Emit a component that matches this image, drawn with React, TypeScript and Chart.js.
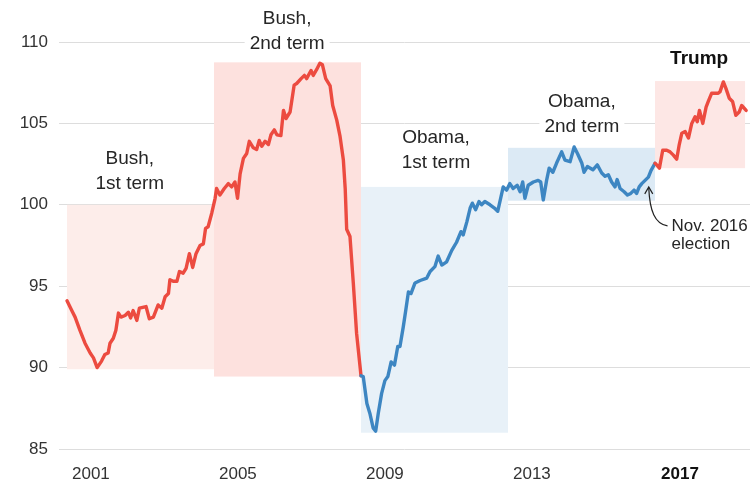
import React, { useEffect, useRef } from "react";
import { Chart, registerables } from "chart.js";

Chart.register(...registerables);

// ---- Data (decimal years, index values) ----
const YEARS = [
  2001.0, 2001.13, 2001.22, 2001.35, 2001.49, 2001.63, 2001.72, 2001.82, 2001.94, 2002.03,
  2002.12, 2002.17, 2002.26, 2002.33, 2002.4, 2002.47, 2002.58, 2002.67, 2002.73, 2002.8,
  2002.9, 2002.97, 2003.06, 2003.15, 2003.24, 2003.35, 2003.48, 2003.58, 2003.67, 2003.76,
  2003.8, 2003.89, 2003.99, 2004.06, 2004.16, 2004.24, 2004.33, 2004.42, 2004.51, 2004.62,
  2004.71, 2004.77, 2004.84, 2004.94, 2005.03, 2005.07, 2005.16, 2005.28, 2005.39, 2005.48,
  2005.57, 2005.64, 2005.71, 2005.8, 2005.89, 2005.96, 2006.07, 2006.16, 2006.23, 2006.3,
  2006.39, 2006.48, 2006.55, 2006.64, 2006.71, 2006.82, 2006.89, 2006.96, 2007.07, 2007.18,
  2007.25, 2007.37, 2007.46, 2007.52, 2007.64, 2007.7, 2007.79, 2007.88, 2007.95, 2008.04,
  2008.16, 2008.23, 2008.34, 2008.43, 2008.52, 2008.57, 2008.61, 2008.7, 2008.79, 2008.88,
  2009.0,
  2009.06, 2009.16, 2009.24, 2009.33, 2009.4, 2009.47, 2009.56, 2009.65, 2009.73, 2009.82,
  2009.91, 2010.0, 2010.06, 2010.15, 2010.22, 2010.29, 2010.36, 2010.47, 2010.61, 2010.79,
  2010.88, 2011.01, 2011.1, 2011.2, 2011.33, 2011.47, 2011.6, 2011.72, 2011.78, 2011.88,
  2011.97, 2012.03, 2012.12, 2012.21, 2012.28, 2012.37, 2012.51, 2012.63, 2012.72, 2012.81,
  2012.87, 2012.96, 2013.05, 2013.14, 2013.25, 2013.33, 2013.4, 2013.46, 2013.55, 2013.69,
  2013.82, 2013.89, 2013.96, 2014.05, 2014.12, 2014.22, 2014.32, 2014.46, 2014.55, 2014.69,
  2014.8, 2014.89, 2015.01, 2015.07, 2015.16, 2015.31, 2015.43, 2015.55, 2015.64, 2015.73,
  2015.82, 2015.91, 2015.97, 2016.05, 2016.16, 2016.25, 2016.34, 2016.43, 2016.5, 2016.57,
  2016.64, 2016.73, 2016.82, 2016.89, 2017.0,
  2017.05, 2017.12, 2017.21, 2017.32, 2017.41, 2017.5, 2017.59, 2017.66, 2017.73, 2017.82,
  2017.91, 2018.0, 2018.09, 2018.15, 2018.21, 2018.3, 2018.39, 2018.45, 2018.54, 2018.63,
  2018.72, 2018.77, 2018.86, 2018.93, 2019.02, 2019.11, 2019.2, 2019.29, 2019.36, 2019.48,
];

const VALUES = [
  94.1, 93.5, 93.1, 92.3, 91.5, 90.9, 90.6, 90.0, 90.4, 90.8,
  90.9, 91.5, 91.8, 92.3, 93.35, 93.1, 93.2, 93.4, 93.05, 93.5,
  92.9, 93.65, 93.7, 93.75, 93.0, 93.1, 93.85, 93.65, 94.35, 94.55,
  95.4, 95.3, 95.3, 95.9, 95.8, 96.1, 97.0, 96.15, 97.0, 97.5,
  97.6, 98.55, 98.65, 99.5, 100.4, 101.0, 100.6, 101.0, 101.3, 101.1,
  101.4, 100.4, 101.9, 102.85, 103.15, 103.9, 103.5, 103.4, 103.95, 103.6,
  103.9, 103.7, 104.3, 104.6, 104.3, 104.25, 105.8, 105.3, 105.7, 107.35,
  107.45, 107.75, 107.95, 107.75, 108.25, 107.95, 108.3, 108.7, 108.6, 107.75,
  107.3, 106.1, 105.2, 104.2, 102.75, 101.0, 98.5, 98.05, 95.2, 92.1,
  89.5,
  89.45, 87.8, 87.2, 86.3, 86.1, 87.2, 88.4, 89.2, 89.45, 90.35,
  90.15, 91.3, 91.3, 92.5, 93.55, 94.65, 94.55, 95.2, 95.35, 95.5,
  95.9, 96.2, 96.85, 96.3, 96.5, 97.2, 97.7, 98.35, 98.15, 98.95,
  99.8, 100.1, 99.7, 100.2, 100.0, 100.2, 100.0, 99.8, 99.6, 100.5,
  101.1, 100.9, 101.3, 101.0, 101.2, 100.8, 101.4, 100.4, 101.2, 101.4,
  101.5, 101.4, 100.3, 101.5, 102.25, 102.0, 102.55, 103.25, 102.75, 102.65,
  103.55, 103.15, 102.55, 102.0, 102.35, 102.15, 102.45, 101.95, 101.75, 101.85,
  101.4, 101.1, 101.55, 101.0, 100.8, 100.6, 100.7, 100.9, 100.7, 101.1,
  101.3, 101.5, 101.7, 102.1, 102.55,
  102.45, 102.25, 103.35, 103.35, 103.25, 103.05, 102.8, 103.7, 104.4, 104.5,
  104.1, 105.0, 105.4, 105.1, 105.8, 105.0, 106.0, 106.35, 106.85, 106.85,
  106.85, 106.95, 107.55, 107.15, 106.55, 106.35, 105.5, 105.7, 106.1, 105.8,
];

// Presidential terms (shaded range boxes: term span x min/max of index)
const TERM_START = [2001, 2005, 2009, 2013, 2017];
const TERM_END = [2005, 2009, 2013, 2017, 2019.45];
const TERM_LOW = [89.9, 89.45, 86.0, 100.25, 102.25];
const TERM_HIGH = [100.0, 108.75, 101.1, 103.5, 107.6];
const TERM_FILL = ["#fdedea", "#fde1de", "#e8f1f8", "#dceaf5", "#fde7e5"];
const BLUE_FROM = 2009;
const BLUE_TO = 2017;

// Term labels
const LABEL_LINES = [
  ["Bush,", "1st term"],
  ["Bush,", "2nd term"],
  ["Obama,", "1st term"],
  ["Obama,", "2nd term"],
  ["Trump"],
];
const LABEL_X = [2002.71, 2006.99, 2011.04, 2015.01, 2018.2];
const LABEL_Y = [102.87, 111.47, 104.16, 106.38, 109.02];
const LABEL_BOLD = [false, false, false, false, true];

// Election note
const NOTE_LINES = ["Nov. 2016", "election"];
const NOTE_X = 2017.45;
const NOTE_Y = 98.7;
const ARROW_TIP = { x: 2016.83, y: 101.1 };

// Axis ticks
const Y_TICKS = [85, 90, 95, 100, 105, 110];
const X_TICK_LABELS = ["2001", "2005", "2009", "2013", "2017"];
const X_TICK_POS = [2001.65, 2005.65, 2009.65, 2013.65, 2017.68];

const RED = "#ec4b40";
const BLUE = "#3d86c2";
const FONT = "'Liberation Sans', Arial, sans-serif";

const overlays = {
  id: "overlays",
  beforeDatasetsDraw(chart: any) {
    const { ctx, scales } = chart;
    const x = scales.x;
    const y = scales.y;
    ctx.save();
    TERM_START.forEach((s, i) => {
      const x0 = x.getPixelForValue(s);
      const x1 = x.getPixelForValue(TERM_END[i]);
      const y0 = y.getPixelForValue(TERM_HIGH[i]);
      const y1 = y.getPixelForValue(TERM_LOW[i]);
      ctx.fillStyle = TERM_FILL[i];
      ctx.fillRect(x0, y0, x1 - x0, y1 - y0);
    });
    ctx.restore();
  },
  afterDatasetsDraw(chart: any) {
    const { ctx, scales } = chart;
    const x = scales.x;
    const y = scales.y;
    ctx.save();
    ctx.textAlign = "center";
    ctx.textBaseline = "middle";
    LABEL_LINES.forEach((lines, i) => {
      const cx = x.getPixelForValue(LABEL_X[i]);
      const cy = y.getPixelForValue(LABEL_Y[i]);
      ctx.font = (LABEL_BOLD[i] ? "bold 19px " : "19px ") + FONT;
      lines.forEach((t, k) => {
        const ly = cy + k * 25;
        const w = ctx.measureText(t).width;
        if (!LABEL_BOLD[i]) {
          ctx.fillStyle = "#ffffff";
          ctx.fillRect(cx - w / 2 - 5, ly - 9, w + 10, 18);
        }
        ctx.fillStyle = LABEL_BOLD[i] ? "#111111" : "#262626";
        ctx.fillText(t, cx, ly + 1);
      });
    });

    // election note
    ctx.font = "17px " + FONT;
    ctx.textAlign = "left";
    ctx.fillStyle = "#262626";
    const nx = x.getPixelForValue(NOTE_X);
    const ny = y.getPixelForValue(NOTE_Y);
    NOTE_LINES.forEach((t, k) => ctx.fillText(t, nx, ny + k * 18));

    // arrow
    const tx = x.getPixelForValue(ARROW_TIP.x);
    const ty = y.getPixelForValue(ARROW_TIP.y);
    ctx.strokeStyle = "#222";
    ctx.lineWidth = 1.2;
    ctx.beginPath();
    ctx.moveTo(tx, ty + 1);
    ctx.bezierCurveTo(tx + 1, ty + 24, tx + 6, ny - 2, nx - 4, ny);
    ctx.stroke();
    ctx.beginPath();
    ctx.moveTo(tx - 4, ty + 7);
    ctx.lineTo(tx, ty);
    ctx.lineTo(tx + 4, ty + 7);
    ctx.stroke();
    ctx.restore();
  },
};

export default function App() {
  const ref = useRef<HTMLCanvasElement | null>(null);

  useEffect(() => {
    document.body.style.margin = "0";
    const canvas = ref.current;
    if (!canvas) return;
    const data = YEARS.map((yr, i) => ({ x: yr, y: VALUES[i] }));
    const chart = new Chart(canvas, {
      type: "line",
      data: {
        datasets: [
          {
            data,
            borderWidth: 3.4,
            borderColor: RED,
            pointRadius: 0,
            tension: 0,
            borderJoinStyle: "round",
            borderCapStyle: "round",
            segment: {
              borderColor: (c: any) =>
                c.p0.parsed.x >= BLUE_FROM && c.p0.parsed.x < BLUE_TO ? BLUE : RED,
            },
          } as any,
        ],
      },
      options: {
        animation: false,
        responsive: false,
        maintainAspectRatio: false,
        layout: { padding: { top: 42, right: 6, bottom: 0, left: 0 } },
        plugins: {
          legend: { display: false },
          tooltip: { enabled: false },
        },
        scales: {
          x: {
            type: "linear",
            min: 2000.782,
            max: 2019.585,
            grid: { display: false, drawTicks: false },
            border: { display: false },
            afterBuildTicks: (s: any) => {
              s.ticks = X_TICK_POS.map((v) => ({ value: v }));
            },
            afterFit: (s: any) => {
              s.height = 36;
            },
            ticks: {
              autoSkip: false,
              maxRotation: 0,
              padding: 15,
              callback: (_v: any, i: number) => X_TICK_LABELS[i],
              color: (c: any) => (c.index === 4 ? "#111" : "#333"),
              font: (c: any) => ({
                family: FONT,
                size: 17,
                weight: c.index === 4 ? "bold" : "normal",
              }),
            },
          },
          y: {
            type: "linear",
            min: 85,
            max: 110,
            afterBuildTicks: (s: any) => {
              s.ticks = Y_TICKS.map((v) => ({ value: v }));
            },
            afterFit: (s: any) => {
              s.width = 59;
            },
            grid: { color: "#dddddd", lineWidth: 1, drawTicks: false },
            border: { display: false },
            ticks: {
              padding: 11,
              color: "#333",
              font: { family: FONT, size: 17 },
            },
          },
        },
      },
      plugins: [overlays],
    });
    return () => chart.destroy();
  }, []);

  return (
    <div style={{ width: 756, height: 485 }}>
      <canvas ref={ref} width={756} height={485} style={{ display: "block" }} />
    </div>
  );
}
